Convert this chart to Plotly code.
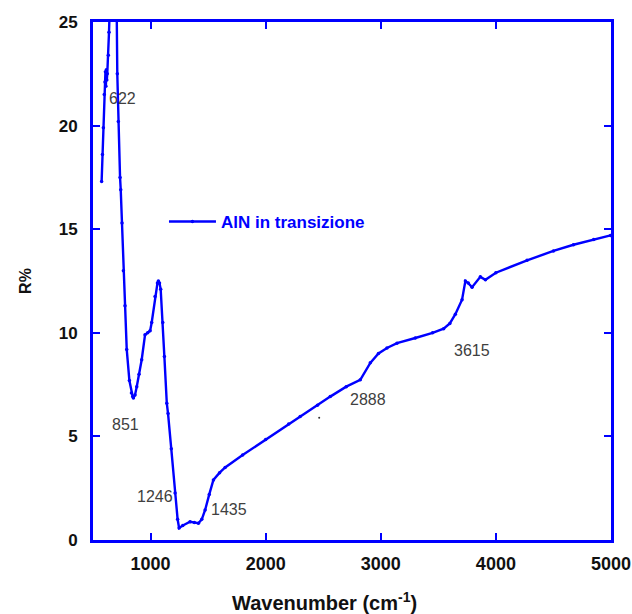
import plotly.graph_objects as go

# Wavenumber (cm-1) and reflectance R%
wavenumber = [575, 582, 590, 598, 604, 608, 612, 616, 620, 624, 633, 639, 645, 660, 690,
              706, 711, 720, 735, 741, 752, 764, 778, 793, 816, 834, 845, 851, 865, 880,
              900, 923, 952, 975, 996, 1010, 1039, 1060, 1068, 1078, 1088, 1106, 1120,
              1141, 1152, 1180, 1213, 1235, 1248, 1280, 1343, 1380, 1416, 1445, 1474,
              1510, 1546, 1600, 1648, 1800, 2000, 2200, 2300, 2450, 2561, 2700, 2822,
              2909, 2980, 3054, 3141, 3300, 3450, 3546, 3600, 3648, 3706, 3735, 3760,
              3793, 3865, 3909, 4000, 4271, 4500, 4674, 4850, 4996]
reflectance = [17.3, 18.6, 19.9, 21.5, 22.1, 22.6, 21.9, 22.7, 22.2, 22.5, 23.4, 24.5, 25.6, 28.0, 28.0,
               25.5, 22.5, 20.2, 17.5, 16.9, 15.3, 13.0, 11.3, 9.2, 7.7, 7.1, 6.92, 6.85, 7.0, 7.4,
               8.0, 8.7, 9.9, 10.0, 10.1, 10.5, 11.75, 12.4, 12.5, 12.4, 12.1, 10.5, 8.86,
               6.6, 6.1, 4.4, 2.27, 1.0, 0.58, 0.7, 0.88, 0.85, 0.81, 1.0, 1.45,
               2.2, 2.9, 3.25, 3.5, 4.1, 4.85, 5.6, 5.96, 6.5, 6.92, 7.4, 7.73,
               8.55, 9.0, 9.27, 9.5, 9.75, 10.0, 10.2, 10.45, 10.9, 11.6, 12.5, 12.4,
               12.2, 12.7, 12.56, 12.9, 13.5, 13.95, 14.25, 14.5, 14.7]

# stray point
stray_x = [2465]
stray_y = [5.9]

# peak labels
peak_labels = ["622", "851", "1246", "1435", "2888", "3615"]
peak_label_x = [752, 778, 1039, 1683, 2891, 3796]
peak_label_y = [21.3, 5.56, 2.08, 1.45, 6.76, 9.13]

x_ticks = [1000, 2000, 3000, 4000, 5000]
y_ticks = [0, 5, 10, 15, 20, 25]

x_title = "Wavenumber (cm<sup>-1</sup>)"
y_title = "R%"

BLUE = "#0000FF"
FONT = "Liberation Sans, Arial"

fig = go.Figure()
fig.add_trace(go.Scatter(
    x=wavenumber, y=reflectance, mode="lines+markers", name="AlN in transizione",
    line=dict(color=BLUE, width=2.4), marker=dict(color=BLUE, size=3.5),
))
fig.add_trace(go.Scatter(
    x=stray_x, y=stray_y, mode="markers", showlegend=False,
    marker=dict(color="#333333", size=2),
))

for t, x, y in zip(peak_labels, peak_label_x, peak_label_y):
    fig.add_annotation(x=x, y=y, text=t, showarrow=False,
                       font=dict(family=FONT, size=16, color="#404040"))

# x-axis title (placed left of centre as in the reference)
fig.add_annotation(x=0.447, y=-0.118, xref="paper", yref="paper",
                   xanchor="center", yanchor="middle", showarrow=False,
                   text=x_title,
                   font=dict(family=FONT, size=20, color="#111111", weight="bold"))

axis_common = dict(
    showline=True, linecolor=BLUE, linewidth=3, mirror="ticks",
    ticks="inside", tickcolor=BLUE, ticklen=7, tickwidth=1.5,
    showgrid=False, zeroline=False, automargin=False,
)

fig.update_xaxes(range=[500, 5000], tickvals=x_ticks, ticklabelstandoff=5,
                 tickfont=dict(family=FONT, size=18, color="#111111", weight="bold"),
                 **axis_common)
fig.update_yaxes(range=[0, 25], tickvals=y_ticks, ticklabelstandoff=9,
                 tickfont=dict(family=FONT, size=17, color="#111111", weight="bold"),
                 title=dict(text=y_title, standoff=24,
                            font=dict(family=FONT, size=16, color="#111111", weight="bold")),
                 **axis_common)

fig.update_layout(
    width=632, height=614,
    margin=dict(l=93, r=21, t=22, b=74),
    plot_bgcolor="white", paper_bgcolor="white",
    legend=dict(x=0.137, y=0.614, xanchor="left", yanchor="middle",
                bgcolor="rgba(0,0,0,0)", itemwidth=47,
                font=dict(family=FONT, size=17, color=BLUE, weight="bold")),
)

fig.write_html(
    "out.html",
    config={"displayModeBar": False},
    post_script="document.body.style.margin='0';document.body.style.overflow='hidden';",
)
